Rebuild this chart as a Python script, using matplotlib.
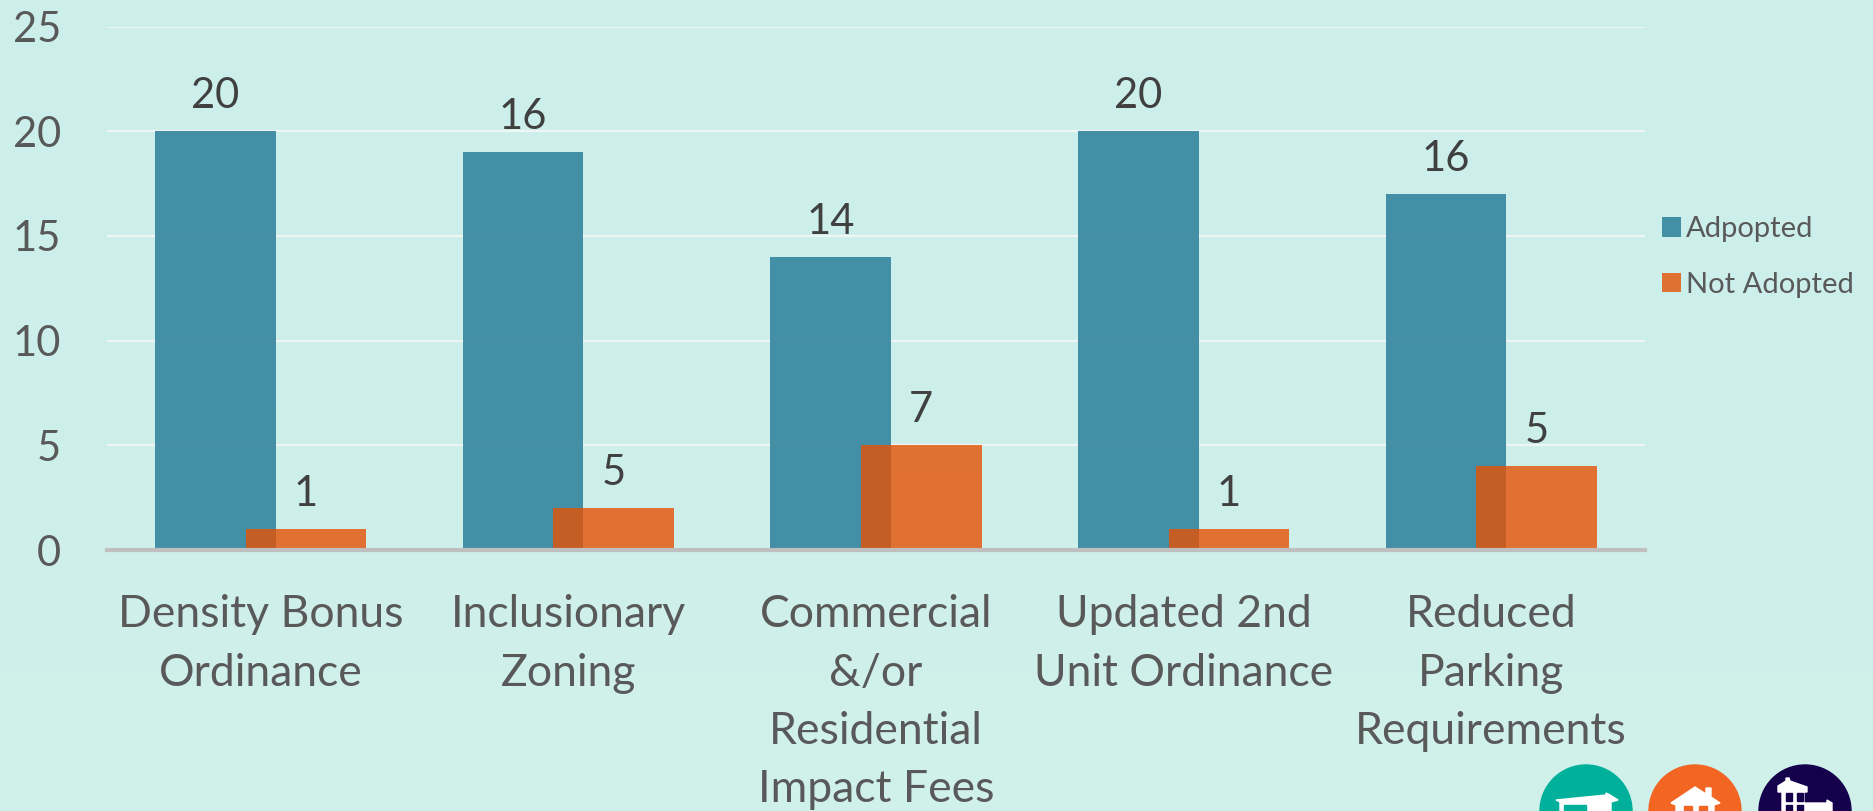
import matplotlib
matplotlib.use('Agg')
import matplotlib.pyplot as plt
import numpy as np
from matplotlib.patches import Circle, Polygon, Rectangle

categories = ['Density Bonus\nOrdinance', 'Inclusionary\nZoning',
              'Commercial\n&/or\nResidential\nImpact Fees',
              'Updated 2nd\nUnit Ordinance', 'Reduced\nParking\nRequirements']
adopted = [20, 19, 14, 20, 17]
not_adopted = [1, 2, 5, 1, 4]
# the printed labels do not always agree with the bar heights in the original
adopted_labels = [20, 16, 14, 20, 16]
not_adopted_labels = [1, 5, 7, 1, 5]
yticks = [0, 5, 10, 15, 20, 25]

W, H = 1873, 811
BG = '#CDEFEB'
plt.rcParams['font.family'] = ['Lato', 'DejaVu Sans']

fig = plt.figure(figsize=(W / 100, H / 100), dpi=100, facecolor=BG)

# very slight vertical fade in the background
bg = fig.add_axes([0, 0, 1, 1], zorder=-1)
bg.imshow(np.array([[[0xCC, 0xEF, 0xEB]], [[0xCC, 0xEF, 0xEB]], [[0xD0, 0xF0, 0xEA]]], dtype=np.uint8),
          aspect='auto', interpolation='bilinear')
bg.axis('off')

ax = fig.add_axes([107 / W, 1 - 550 / H, (1645 - 107) / W, (550 - 26.5) / H])
ax.set_facecolor('none')

x = np.arange(len(categories))
width = 0.392
off = 0.147
ax.bar(x - off, adopted, width, color='#3D8BA3', alpha=0.96, label='Adpopted', zorder=2)
ax.bar(x + off, not_adopted, width, color='#E55205', alpha=0.8, label='Not Adopted', zorder=3)

for i in range(len(x)):
    ax.text(x[i] - off, adopted[i] + 0.78, str(adopted_labels[i]), ha='center', va='bottom',
            fontsize=30, color='#404040', zorder=4)
    ax.text(x[i] + off, not_adopted[i] + 0.78, str(not_adopted_labels[i]), ha='center', va='bottom',
            fontsize=30, color='#404040', zorder=4)

ax.set_xlim(-0.5, 4.5)
ax.set_ylim(0, 25)
ax.set_yticks(yticks)
ax.set_xticks(x)
ax.set_xticklabels(categories, linespacing=1.52)
ax.tick_params(axis='y', length=0, pad=33, labelsize=30, labelcolor='#595959')
ax.tick_params(axis='x', length=0, pad=32, labelsize=32, labelcolor='#595959')
ax.grid(axis='y', color='#EEF5F3', lw=1.6, zorder=1)
ax.set_axisbelow(True)
for s in ['top', 'right', 'left']:
    ax.spines[s].set_visible(False)
ax.spines['bottom'].set_color('#BFBFBF')
ax.spines['bottom'].set_linewidth(3)
ax.spines['bottom'].set_zorder(5)

handles, labels = ax.get_legend_handles_labels()
fig.legend(handles, labels, loc='center left', bbox_to_anchor=(1636 / W, 1 - 257 / H),
           frameon=False, fontsize=21, labelcolor='#595959', handlelength=0.65, handleheight=0.65,
           handletextpad=0.17, labelspacing=1.0)

# the three round logos cut off at the bottom right
ov = fig.add_axes([0, 0, 1, 1], facecolor='none')
ov.set_xlim(0, W)
ov.set_ylim(H, 0)
ov.axis('off')
ov.add_patch(Circle((1586, 811), 46, color='#00B09B'))
ov.add_patch(Circle((1695, 811), 46, color='#F26522'))
ov.add_patch(Circle((1805, 811), 46, color='#14004B'))
ov.add_patch(Polygon([(1556, 800), (1606, 795), (1606, 793), (1610, 795), (1618, 800), (1611, 802),
                      (1611, 811), (1560, 811), (1560, 802)], color='white'))
ov.add_patch(Rectangle((1564, 805), 22, 6, color='#00B09B'))
ov.add_patch(Polygon([(1671, 803), (1695, 787), (1706, 794), (1706, 788), (1711, 788), (1711, 797),
                      (1720, 803), (1714, 805), (1714, 811), (1676, 811), (1676, 805)], color='white'))
ov.add_patch(Rectangle((1684, 806), 8, 5, color='#F26522'))
ov.add_patch(Rectangle((1699, 806), 8, 5, color='#F26522'))
ov.add_patch(Polygon([(1778, 786), (1786, 781), (1786, 778), (1789, 778), (1790, 781), (1807, 787),
                      (1807, 792), (1804, 792), (1804, 803), (1827, 803), (1827, 800), (1832, 803),
                      (1832, 811), (1782, 811), (1782, 792), (1778, 792)], color='white'))
for cx in (1787, 1798):
    ov.add_patch(Rectangle((cx - 1, 793), 6, 8, color='#14004B'))
    ov.add_patch(Rectangle((cx - 1, 805), 6, 6, color='#14004B'))

fig.savefig('out.png', dpi=100, facecolor=BG)
